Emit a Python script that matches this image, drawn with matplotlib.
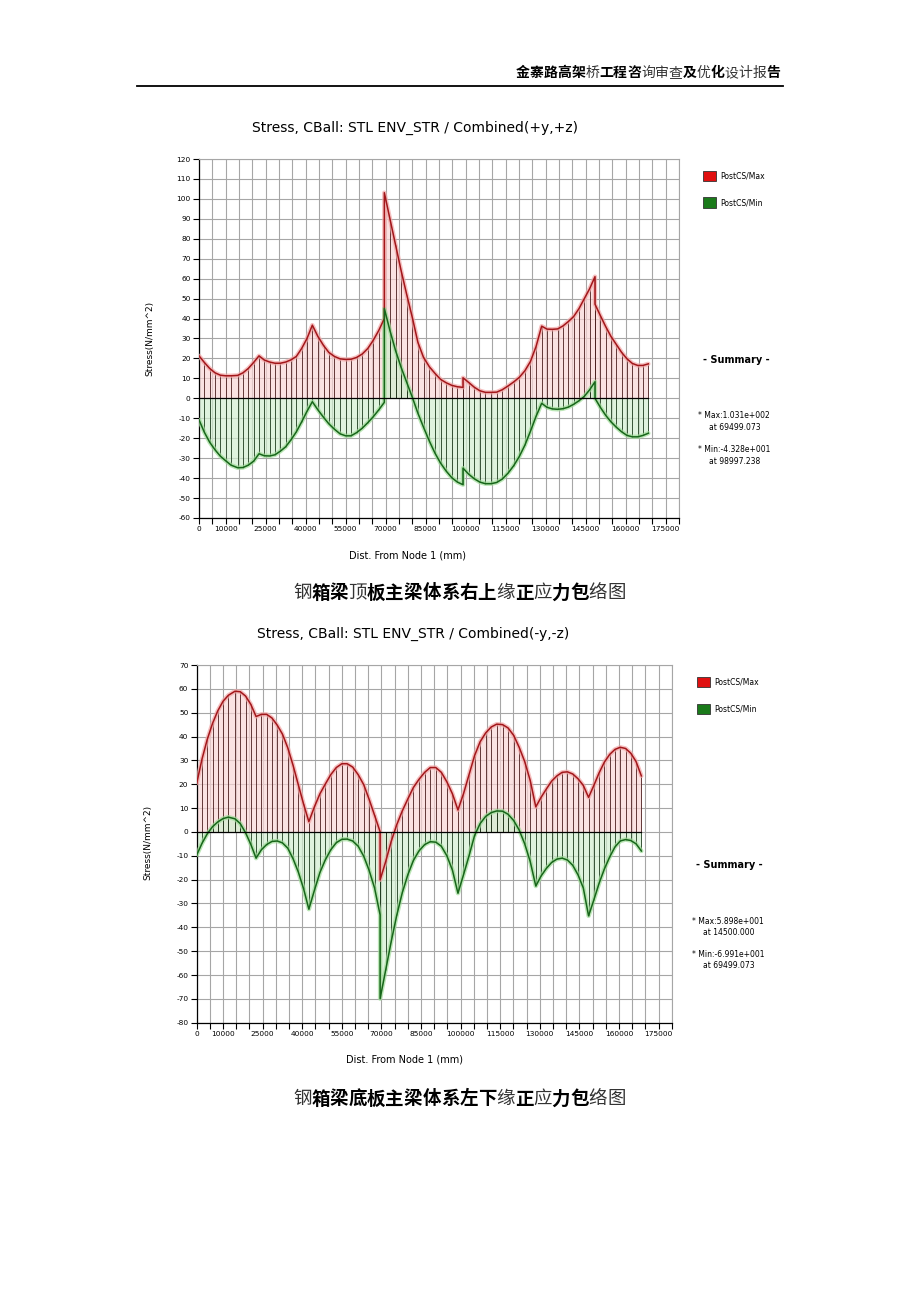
import matplotlib
matplotlib.use("Agg")
import matplotlib.pyplot as plt
from matplotlib.patches import Rectangle
from matplotlib.lines import Line2D
from matplotlib.ticker import MultipleLocator, FuncFormatter

# ----- data (x in mm, stress in N/mm^2)

header = "金寨路高架桥工程咨询审查及优化设计报告"
header_bold = "1111101110001010001"   # the page mixes bold and thin glyphs

# chart 1 : top flange, combined(+y,+z)  (nodes repeated where the envelope jumps)
top_title = "Stress, CBall: STL ENV_STR / Combined(+y,+z)"
top_caption = "钢箱梁顶板主梁体系右上缘正应力包络图"
top_caption_bold = "011011111110101100"
top_x = [0, 2000, 4000, 6000, 8000, 10000, 12000, 14500, 16500, 18500, 20500, 22500,
         24500, 26500, 28500, 30500, 32500, 34500, 36500, 38500, 40500, 42500,
         44600, 46700, 48700, 50800, 52900, 55000, 57000, 59100, 61200, 63300, 65300, 67400,
         69500, 69500,
         71600, 73700, 75800, 77900, 80000, 82100, 84200, 86400, 88500, 90600, 92700, 94800,
         96900, 99000, 99000,
         101100, 103200, 105300, 107400, 109500, 111600, 113700, 115900, 118000, 120100,
         122200, 124300, 126400, 128500,
         130500, 132500, 134500, 136500, 138500, 140500, 142500, 144500, 146500, 148500, 148500,
         150500, 152500, 154500, 156500, 158500, 160500, 162500, 164500, 166500, 168500]
top_max = [21.3, 18.0, 15.0, 12.8, 11.6, 11.3, 11.3, 11.5, 12.8, 15.0, 18.0, 21.3,
           19.2, 18.2, 17.6, 17.6, 18.2, 19.3, 21.0, 25.0, 30.0, 36.7,
           31.0, 26.5, 23.0, 21.0, 19.8, 19.5, 19.6, 20.5, 22.2, 25.0, 29.0, 34.0,
           40.0, 103.1,
           90.0, 77.0, 64.0, 52.0, 40.5, 28.0, 20.5, 15.8, 12.5, 9.5, 7.8, 6.5,
           5.8, 5.5, 10.3,
           8.0, 5.6, 3.8, 3.0, 3.0, 3.1, 4.3, 6.2, 8.2, 10.5,
           13.8, 18.5, 26.0, 36.2,
           34.7, 34.6, 34.8, 36.3, 38.5, 41.0, 45.0, 50.0, 55.0, 61.0, 47.2,
           41.5, 36.0, 31.0, 27.0, 23.0, 19.8, 17.5, 16.5, 16.5, 17.3]
top_min = [-10.8, -17.0, -22.0, -25.8, -29.0, -31.3, -33.5, -34.8, -34.7, -33.5, -31.5, -27.8,
           -28.8, -28.9, -28.3, -26.5, -24.3, -20.8, -16.8, -11.8, -6.5, -1.7,
           -5.8, -9.5, -12.8, -15.5, -17.8, -18.8, -18.8, -17.2, -15.0, -12.2, -9.3, -5.8,
           -2.0, 45.0,
           34.0, 24.0, 15.5, 8.0, 0.5, -7.5, -14.5, -21.5, -27.5, -32.5, -36.5, -39.8,
           -42.0, -43.3, -35.0,
           -38.0, -40.3, -42.0, -42.8, -42.8, -42.2, -40.5, -37.5, -33.8, -29.2,
           -23.5, -16.5, -9.0, -2.5,
           -4.5, -5.3, -5.5, -5.2, -4.4, -3.0, -1.2, 1.0, 4.3, 8.3, 0.0,
           -4.5, -8.5, -11.8, -14.5, -16.8, -18.6, -19.3, -19.3, -18.6, -17.5]
top_note = ["* Max:1.031e+002", "at 69499.073", "* Min:-4.328e+001", "at 98997.238"]

# chart 2 : bottom flange, combined(-y,-z)
bot_title = "Stress, CBall: STL ENV_STR / Combined(-y,-z)"
bot_caption = "钢箱梁底板主梁体系左下缘正应力包络图"
bot_caption_bold = "011111111110101100"
bot_x = [0, 2000, 4000, 6000, 8000, 10000, 12000, 14500, 16500, 18500, 20500, 22500,
         24500, 26500, 28500, 30500, 32500, 34500, 36500, 38500, 40500, 42500,
         44600, 46700, 48700, 50800, 52900, 55000, 57000, 59100, 61200, 63300, 65300, 67400,
         69500, 69500,
         71600, 73700, 75800, 77900, 80000, 82100, 84200, 86400, 88500, 90600, 92700, 94800,
         96900, 99000,
         101100, 103200, 105300, 107400, 109500, 111600, 113700, 115900, 118000, 120100,
         122200, 124300, 126400, 128500,
         130500, 132500, 134500, 136500, 138500, 140500, 142500, 144500, 146500, 148500,
         150500, 152500, 154500, 156500, 158500, 160500, 162500, 164500, 166500, 168500]
bot_max = [20.4, 30.5, 38.8, 45.5, 50.8, 54.8, 57.3, 59.0, 58.8, 57.0, 53.5, 48.4,
           49.3, 49.3, 47.8, 44.8, 41.0, 35.3, 28.0, 19.8, 11.7, 4.3,
           10.5, 16.0, 20.0, 24.0, 27.0, 28.6, 28.6, 27.2, 24.0, 19.8, 13.8, 7.0,
           0.1, -20.1,
           -12.5, -4.0, 3.0, 8.8, 13.8, 18.6, 22.0, 25.0, 27.0, 27.0, 25.0, 21.0,
           16.0, 9.2,
           16.0, 24.0, 32.0, 37.8, 41.5, 44.0, 45.2, 45.0, 43.6, 40.5,
           35.5, 29.5, 21.5, 10.5,
           14.5, 18.0, 21.3, 23.5, 25.0, 25.2, 24.3, 22.3, 19.5, 14.5,
           19.5, 24.8, 29.3, 32.5, 34.6, 35.5, 35.0, 33.0, 29.5, 23.5]
bot_min = [-9.7, -4.8, -0.8, 2.2, 4.2, 5.6, 6.2, 5.5, 3.5, -0.3, -5.2, -11.0,
           -7.5, -5.3, -4.0, -3.8, -4.6, -6.8, -11.2, -16.8, -23.8, -32.4,
           -24.5, -17.0, -11.8, -7.5, -4.5, -3.1, -3.0, -3.8, -6.0, -10.2, -16.0, -23.5,
           -34.8, -69.9,
           -58.0, -46.0, -35.0, -25.5, -18.0, -12.0, -8.0, -5.3, -4.1, -4.3, -6.0, -10.0,
           -16.0, -25.7,
           -18.0, -10.0, -1.5, 3.5, 6.5, 8.1, 8.8, 8.7, 7.4, 4.8,
           0.8, -5.0, -12.5, -22.7,
           -18.5, -15.3, -12.8, -11.4, -11.0, -11.8, -14.0, -18.0, -23.5, -35.2,
           -28.5, -21.5, -15.5, -10.5, -6.3, -3.8, -3.2, -3.6, -5.0, -8.0]
bot_note = ["* Max:5.898e+001", "at 14500.000", "* Min:-6.991e+001", "at 69499.073"]

legend_names = ["PostCS/Max", "PostCS/Min"]

# ----- page layout (pixels of the 920x1302 page)
W, H = 920, 1302
CJK = ["Noto Sans CJK SC", "DejaVu Sans"]


def fx(px):
    return px / W


def fy(py):
    return 1 - py / H


def cjk_line(text, bold, left, y, size):
    # one glyph at a time so each can keep its own weight
    adv = size * 100 / 72.0
    for i, (ch, b) in enumerate(zip(text, bold)):
        fig.text(fx(left + adv * (i + 0.5)), fy(y), ch, ha="center", va="center",
                 fontsize=size, family=CJK,
                 weight="bold" if b == "1" else "light",
                 color="black" if b == "1" else "#333333")


fig = plt.figure(figsize=(W / 100, H / 100), dpi=100)
fig.patch.set_facecolor("white")

# page header
cjk_line(header, header_bold, 516, 73, 10)
fig.add_artist(Line2D([fx(137), fx(783)], [fy(86), fy(86)], color="black", lw=1.3,
                      transform=fig.transFigure))


def xlabel_fmt(v, p):
    v = int(round(v))
    if v == 0 or (v - 10000) % 15000 == 0:
        return "%d" % v
    return ""


def chart(box, ylim, xs, my, ny, title, caption, cap_bold, note, pos):
    ax = fig.add_axes(box)
    ax.set_xlim(0, 180000)
    ax.set_ylim(*ylim)
    ax.xaxis.set_major_locator(MultipleLocator(5000))
    ax.yaxis.set_major_locator(MultipleLocator(10))
    ax.xaxis.set_major_formatter(FuncFormatter(xlabel_fmt))
    ax.yaxis.set_major_formatter(FuncFormatter(lambda v, p: "%d" % v))
    ax.tick_params(labelsize=5.3, length=4, width=0.8, pad=2, colors="black")
    ax.grid(True, color="#a6a6a6", lw=0.8)
    ax.set_axisbelow(True)
    for s in ["top", "right"]:
        ax.spines[s].set_color("#a6a6a6")
        ax.spines[s].set_linewidth(0.8)
    for s in ["left", "bottom"]:
        ax.spines[s].set_linewidth(0.9)

    # max envelope (red) and min envelope (green)
    ax.fill_between(xs, 0, my, color="#f9d6d6", alpha=0.7, lw=0, zorder=1)
    ax.fill_between(xs, 0, ny, color="#d2eed0", alpha=0.7, lw=0, zorder=1)
    ax.vlines(xs, 0, my, colors="#4a1c1c", lw=0.6, zorder=2)
    ax.vlines(xs, 0, ny, colors="#1c3a1c", lw=0.6, zorder=2)

    ax.plot(xs, my, color="#f2a6a6", lw=3.2, alpha=0.7, zorder=3, solid_capstyle="round")
    ax.plot(xs, ny, color="#9fdc98", lw=3.2, alpha=0.7, zorder=3, solid_capstyle="round")
    ax.plot(xs, my, color="#a3161a", lw=1.1, zorder=4)
    ax.plot(xs, ny, color="#17661a", lw=1.1, zorder=4)
    ax.plot([0, xs[-1]], [0, 0], color="black", lw=0.9, zorder=5)

    t_x, t_y, yl_x, yl_y, xl_x, xl_y, cap_y, lg_x, lg_y, sm_x, sm_y, nt_x, nt_y = pos
    fig.text(fx(t_x), fy(t_y), title, ha="center", va="center", fontsize=10)
    fig.text(fx(yl_x), fy(yl_y), "Stress(N/mm^2)", ha="center", va="center",
             fontsize=6.5, rotation=90)
    fig.text(fx(xl_x), fy(xl_y), "Dist. From Node 1 (mm)", ha="center", va="center",
             fontsize=7)
    cjk_line(caption, cap_bold, 293, cap_y, 13.3)

    # legend
    for i, (name, c) in enumerate(zip(legend_names, ["#e01010", "#1a7a1a"])):
        yy = lg_y + i * 26.5
        fig.add_artist(Rectangle((fx(lg_x), fy(yy + 5)), 13 / W, 10 / H, facecolor=c,
                                 edgecolor="#333333", lw=0.6, transform=fig.transFigure))
        fig.text(fx(lg_x + 17), fy(yy), name, ha="left", va="center", fontsize=5.5)

    fig.text(fx(sm_x), fy(sm_y), "- Summary -", ha="center", va="center",
             fontsize=7, weight="bold")
    for i, s in enumerate(note):
        xx = nt_x if i % 2 == 0 else nt_x + 11
        yy = nt_y + (i // 2) * 33.5 + (i % 2) * 11.5
        fig.text(fx(xx), fy(yy), s, ha="left", va="center", fontsize=5.5)
    return ax


chart([fx(199), fy(518), 480 / W, 359 / H], (-60, 120),
      top_x, top_max, top_min, top_title, top_caption, top_caption_bold, top_note,
      (415, 128, 150, 338, 408, 556, 593, 703, 176, 736, 360, 698, 416))

chart([fx(196.7), fy(1022.7), 475 / W, 357.7 / H], (-80, 70),
      bot_x, bot_max, bot_min, bot_title, bot_caption, bot_caption_bold, bot_note,
      (413, 634, 148, 842, 405, 1060, 1099, 697, 682, 729, 865, 692, 921))

fig.savefig("out.png", dpi=100, facecolor="white")
